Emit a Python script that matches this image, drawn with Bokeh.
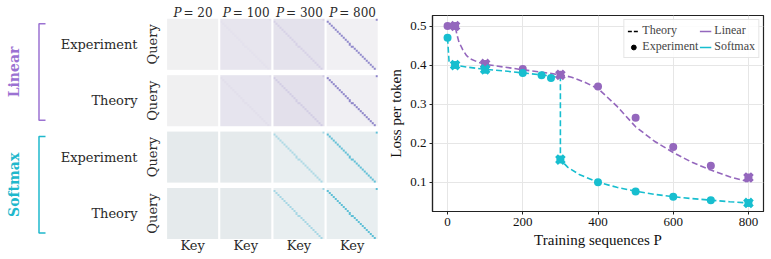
import numpy as np
from bokeh.plotting import figure
from bokeh.layouts import row
from bokeh.models import Range1d, FixedTicker, Legend, LegendItem
from bokeh.core.properties import value
from bokeh.embed import file_html
from bokeh.resources import INLINE

# ---------------- data ----------------
P_titles = ["20", "100", "300", "800"]
row_labels = ["Experiment", "Theory", "Experiment", "Theory"]
group_labels = ["Linear", "Softmax"]
group_colors = ["#9b72d2", "#1fb8cc"]
N_TOKENS = 25

# heatmap background / diagonal colours per panel (rows: Lin-Exp, Lin-Th, Soft-Exp, Soft-Th)
heat_bg = [
    ["#f0f0f1", "#e7e5ee", "#e4e2ec", "#f1f0f3"],
    ["#f0f0f1", "#e6e4ee", "#e3e0eb", "#f0eff3"],
    ["#e5eaec", "#e5eaec", "#e8eef0", "#e8eef0"],
    ["#e5eaec", "#e5eaec", "#e8eef0", "#e8eef0"],
]
heat_diag = [
    ["#f0f0f1", "#e4e1ed", "#d6d1e6", "#9088cb"],
    ["#f0f0f1", "#e2dfeb", "#d2cde4", "#8d84c9"],
    ["#e5eaec", "#e5eaec", "#acd9e5", "#60c0d7"],
    ["#e5eaec", "#e5eaec", "#a7d7e4", "#5dbfd6"],
]

linear_exp_P = [0, 20, 100, 200, 300, 400, 500, 600, 700, 800]
linear_exp = [0.500, 0.500, 0.403, 0.390, 0.375, 0.345, 0.265, 0.190, 0.142, 0.112]
softmax_exp_P = [0, 20, 100, 200, 250, 275, 300, 400, 500, 600, 700, 800]
softmax_exp = [0.470, 0.400, 0.388, 0.380, 0.374, 0.367, 0.158, 0.100, 0.076, 0.063, 0.054, 0.047]

linear_th_P = [0, 20, 25, 30, 40, 50, 60, 80, 100, 150, 200, 250, 300, 330, 360, 400,
               450, 500, 550, 600, 650, 700, 750, 800]
linear_th = [0.500, 0.500, 0.478, 0.460, 0.440, 0.425, 0.416, 0.408, 0.402, 0.395, 0.388,
             0.382, 0.375, 0.369, 0.358, 0.340, 0.295, 0.242, 0.205, 0.176, 0.151, 0.131,
             0.114, 0.101]
softmax_th_P = [0, 4, 20, 50, 100, 150, 200, 250, 290, 300, 300, 320, 350, 400, 450, 500,
                550, 600, 650, 700, 750, 800]
softmax_th = [0.470, 0.410, 0.400, 0.395, 0.389, 0.385, 0.380, 0.375, 0.370, 0.370, 0.158,
              0.138, 0.120, 0.100, 0.087, 0.077, 0.069, 0.063, 0.058, 0.054, 0.050, 0.047]

linear_sel_P = [20, 100, 300, 800]
linear_sel = [0.500, 0.403, 0.375, 0.112]
softmax_sel_P = [20, 100, 300, 800]
softmax_sel = [0.400, 0.389, 0.158, 0.047]

PURPLE = "#9467bd"
CYAN = "#17becf"

# ---------------- left panel ----------------
W_L, H = 385, 259
left = figure(width=W_L, height=H, x_range=Range1d(0, W_L), y_range=Range1d(0, H),
              toolbar_location=None, output_backend="svg", x_axis_type=None,
              y_axis_type=None, min_border=0)
left.grid.visible = False
left.outline_line_color = None
left.frame_align = False

def Y(py):
    return H - py

def hex_rgb(h):
    h = h.lstrip("#")
    return [int(h[i:i + 2], 16) for i in (0, 2, 4)]

col_x0, col_step, cell = 166.6, 53.2, 51.0
row_y0, row_step = 18.3, 56.4
text_font = value("DejaVu Serif")
TXT = "#2a2a2a"

for r in range(4):
    top = row_y0 + r * row_step
    for c in range(4):
        img = np.empty((N_TOKENS, N_TOKENS), dtype=np.uint32)
        view = img.view(dtype=np.uint8).reshape((N_TOKENS, N_TOKENS, 4))
        view[:, :, :3] = hex_rgb(heat_bg[r][c])
        view[:, :, 3] = 255
        d = hex_rgb(heat_diag[r][c])
        for q in range(N_TOKENS):
            view[N_TOKENS - 1 - q, (q - 1) % N_TOKENS, :3] = d
        left.image_rgba(image=[img], x=col_x0 + c * col_step, y=Y(top + cell),
                        dw=cell, dh=cell)
    cy = top + cell / 2
    left.text(x=[137], y=[Y(cy)], text=[row_labels[r]], text_font=text_font,
              text_font_size="13px", text_align="right", text_baseline="middle",
              text_color=TXT)
    left.text(x=[152], y=[Y(cy)], text=["Query"], text_font=text_font,
              text_font_size="13px", text_align="center", text_baseline="middle",
              angle=np.pi / 2, text_color=TXT)

for c in range(4):
    cx = col_x0 + c * col_step + cell / 2
    left.text(x=[cx], y=[Y(245)], text=["Key"], text_font=text_font,
              text_font_size="13px", text_align="center", text_baseline="middle",
              text_color=TXT)
    fs = 12
    wnum = fs * (0.84 + 0.3 + 0.64 * len(P_titles[c]))
    wp = fs * 0.73
    x0 = cx - (wp + 2 + wnum) / 2 + wp + 2
    left.text(x=[x0 - 2], y=[Y(12)], text=["P"], text_font=text_font,
              text_font_size=f"{fs}px", text_font_style="italic", text_align="right",
              text_baseline="middle", text_color=TXT)
    left.text(x=[x0], y=[Y(12)], text=["= " + P_titles[c]], text_font=text_font,
              text_font_size=f"{fs}px", text_align="left", text_baseline="middle",
              text_color=TXT)

for g in range(2):
    top = row_y0 + 2 * g * row_step
    y_top = top + 5
    y_bot = top + row_step + cell - 6
    col = group_colors[g]
    left.line(x=[45, 38.5, 38.5, 45], y=[Y(y_top), Y(y_top), Y(y_bot), Y(y_bot)],
              line_color=col, line_width=1.5)
    left.text(x=[13], y=[Y((y_top + y_bot) / 2)], text=[group_labels[g]],
              text_font=text_font, text_font_size="14px", text_font_style="bold",
              text_align="center", text_baseline="middle", angle=np.pi / 2,
              text_color=col)

# ---------------- right panel ----------------
p = figure(width=386, height=H, x_range=Range1d(-40, 840), y_range=Range1d(0.025, 0.527),
           toolbar_location=None, output_backend="svg",
           min_border_left=43, min_border_right=8, min_border_top=15, min_border_bottom=48)
p.frame_align = False
p.outline_line_color = "#222222"
p.outline_line_width = 1.2
p.xaxis.ticker = FixedTicker(ticks=[0, 200, 400, 600, 800])
p.yaxis.ticker = FixedTicker(ticks=[0.1, 0.2, 0.3, 0.4, 0.5])
p.xaxis.axis_label = "Training sequences P"
p.yaxis.axis_label = "Loss per token"
for ax in (p.xaxis, p.yaxis):
    ax.axis_label_text_font = "Liberation Serif"
    ax.axis_label_text_font_style = "normal"
    ax.axis_label_text_font_size = "15px"
    ax.axis_label_text_color = "#111111"
    ax.major_label_text_font = "Liberation Serif"
    ax.major_label_text_font_size = "13px"
    ax.major_label_text_color = "#111111"
    ax.minor_tick_line_color = None
    ax.major_tick_in = 0
    ax.major_tick_out = 3
    ax.major_tick_line_color = "#222222"
    ax.axis_line_color = "#222222"
    ax.axis_line_width = 1.2
    ax.major_label_standoff = 3
    ax.axis_label_standoff = 3
p.grid.grid_line_color = "#e6e6e6"
p.grid.grid_line_width = 1

dash = "6 3"
p.line(linear_th_P, linear_th, line_color=PURPLE, line_width=1.6, line_dash=dash)
p.line(softmax_th_P, softmax_th, line_color=CYAN, line_width=1.6, line_dash=dash)
p.scatter(linear_exp_P, linear_exp, size=8, color=PURPLE, line_color=None)
p.scatter(softmax_exp_P, softmax_exp, size=8, color=CYAN, line_color=None)
p.scatter(linear_sel_P, linear_sel, marker="x", size=11, line_color=PURPLE, line_width=4)
p.scatter(softmax_sel_P, softmax_sel, marker="x", size=11, line_color=CYAN, line_width=4)

# legend proxies (off-screen)
r_th = p.line([-1000, -999], [-1, -1], line_color="black", line_width=1.6, line_dash="4 2")
r_ex = p.scatter([-1000], [-1], size=8, color="black")
r_li = p.line([-1000, -999], [-1, -1], line_color=PURPLE, line_width=1.6)
r_so = p.line([-1000, -999], [-1, -1], line_color=CYAN, line_width=1.6)
legend = Legend(items=[LegendItem(label="Theory", renderers=[r_th]),
                       LegendItem(label="Experiment", renderers=[r_ex]),
                       LegendItem(label="Linear", renderers=[r_li]),
                       LegendItem(label="Softmax", renderers=[r_so])],
                location="top_right", ncols=2)
legend.label_text_font = "Liberation Serif"
legend.label_text_font_size = "12px"
legend.label_height = 12
legend.glyph_height = 12
legend.glyph_width = 12
legend.label_standoff = 3
legend.spacing = 1
legend.padding = 3
legend.margin = 4
legend.border_line_color = "#cccccc"
legend.background_fill_alpha = 0.85
p.add_layout(legend)

layout = row(left, p)
open("out.html", "w").write(file_html(layout, INLINE))
